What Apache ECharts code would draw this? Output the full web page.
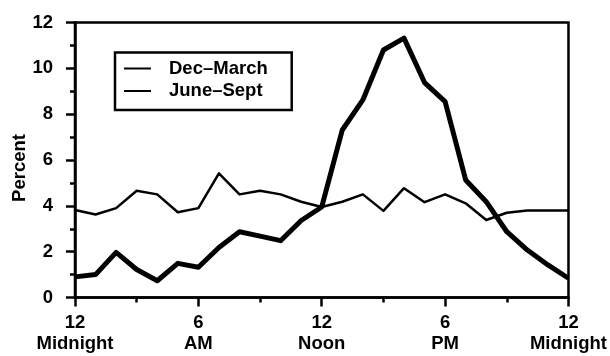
<!DOCTYPE html>
<html>
<head>
<meta charset="utf-8">
<script src="https://cdn.jsdelivr.net/npm/echarts@6/dist/echarts.min.js"></script>
<style>
html,body{margin:0;padding:0;background:#fff;}
#chart{width:610px;height:356px;}
</style>
</head>
<body>
<div id="chart"></div>
<script>
var hours = [0,1,2,3,4,5,6,7,8,9,10,11,12,13,14,15,16,17,18,19,20,21,22,23,24];
var decMarch = [3.82,3.62,3.9,4.66,4.5,3.72,3.9,5.42,4.5,4.66,4.5,4.18,3.95,4.18,4.5,3.78,4.77,4.16,4.5,4.11,3.38,3.7,3.8,3.8,3.8];
var juneSept = [0.9,1.0,1.97,1.22,0.73,1.49,1.32,2.18,2.87,2.68,2.48,3.36,3.95,7.31,8.62,10.8,11.32,9.38,8.55,5.13,4.18,2.87,2.07,1.42,0.84];
var seriesNames = ['Dec\u2013March', 'June\u2013Sept'];
var xTickValues = [0, 6, 12, 18, 24];
var xTickLabels = ['12\nMidnight', '6\nAM', '12\nNoon', '6\nPM', '12\nMidnight'];
var yName = 'Percent';

function pairs(vals){ return hours.map(function(h,i){ return [h, vals[i]]; }); }

var FONT = '"Liberation Sans", Arial, Helvetica, sans-serif';
var chart = echarts.init(document.getElementById('chart'), null, {renderer:'canvas'});
chart.setOption({
  animation: false,
  backgroundColor: '#fff',
  textStyle: {fontFamily: FONT},
  grid: {left: 75, right: 37, top: 22.5, bottom: 58.5, show: true, borderColor: '#000', borderWidth: 2.5, backgroundColor: 'transparent'},
  legend: {
    orient: 'vertical', left: 115, top: 52.5,
    padding: [6, 24, 9, 8],
    borderColor: '#000', borderWidth: 2.5,
    itemWidth: 27, itemHeight: 14, itemGap: 2.5,
    itemStyle: {color: 'transparent', borderWidth: 0, opacity: 0},
    textStyle: {fontSize: 18.5, fontWeight: 'bold', color: '#000', fontFamily: FONT, lineHeight: 20, padding: [0,0,0,13]},
    data: seriesNames
  },
  xAxis: {
    type: 'value', min: 0, max: 24, interval: 6,
    axisLine: {lineStyle: {color: '#000', width: 2.5}},
    axisTick: {show: true, length: 9, lineStyle: {color: '#000', width: 2.5}},
    minorTick: {show: true, splitNumber: 2, length: 5, lineStyle: {color: '#000', width: 2.5}},
    splitLine: {show: false},
    axisLabel: {
      margin: 15, fontSize: 18.5, fontWeight: 'bold', color: '#000', fontFamily: FONT, lineHeight: 21,
      formatter: function(v){ var i = xTickValues.indexOf(v); return i >= 0 ? xTickLabels[i] : ''; }
    }
  },
  yAxis: {
    type: 'value', min: 0, max: 12, interval: 2,
    axisLine: {show: true, lineStyle: {color: '#000', width: 2.5}},
    axisTick: {show: true, length: 9, lineStyle: {color: '#000', width: 2.5}},
    minorTick: {show: true, splitNumber: 2, length: 5, lineStyle: {color: '#000', width: 2.5}},
    splitLine: {show: false},
    axisLabel: {margin: 22, fontSize: 18.5, fontWeight: 'bold', color: '#000', fontFamily: FONT}
  },
  graphic: [{
    type: 'text', x: 20, y: 168, rotation: Math.PI/2,
    style: {text: yName, fill: '#000', font: 'bold 18.5px ' + FONT, align: 'center', verticalAlign: 'middle'}
  }],
  series: [
    {name: seriesNames[0], type: 'line', data: pairs(decMarch), symbol: 'none', color: '#000',
     lineStyle: {color: '#000', width: 2.5, join: 'round'}},
    {name: seriesNames[1], type: 'line', data: pairs(juneSept), symbol: 'none', color: '#000',
     lineStyle: {color: '#000', width: 5, join: 'round'}}
  ]
});
</script>
</body>
</html>
